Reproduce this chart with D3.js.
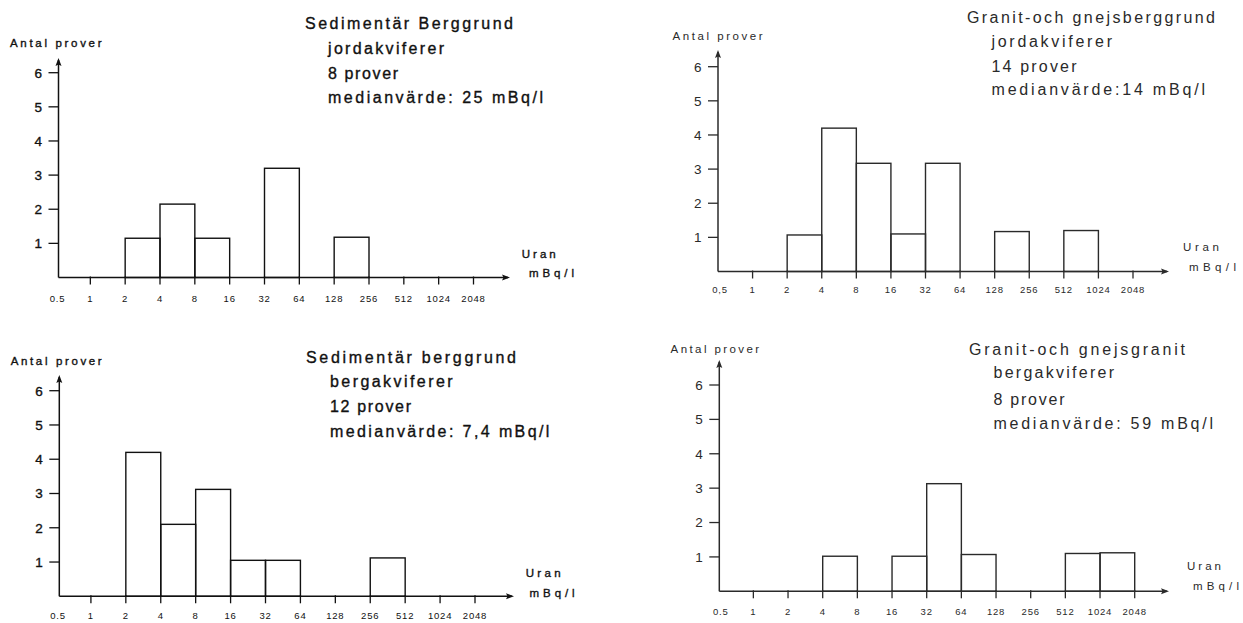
<!DOCTYPE html>
<html>
<head>
<meta charset="utf-8">
<script src="https://cdn.jsdelivr.net/npm/d3@7"></script>
<style>
  html, body { margin: 0; padding: 0; background: #fff; }
  svg { display: block; font-family: "Liberation Sans", Arial, sans-serif; }
</style>
</head>
<body>
<svg id="chart" width="1243" height="623"></svg>
<script>
// Class limits of the uranium concentration (mBq/l), doubling each step
const binEdges = [0.5, 1, 2, 4, 8, 16, 32, 64, 128, 256, 512, 1024, 2048];
const tickLabelsDot = ["0.5", "1", "2", "4", "8", "16", "32", "64", "128", "256", "512", "1024", "2048"];
const tickLabelsComma = ["0,5", "1", "2", "4", "8", "16", "32", "64", "128", "256", "512", "1024", "2048"];
const yTickValues = [1, 2, 3, 4, 5, 6];

// Number of samples per class (one value per interval between two edges)
const sedJord = [0, 0, 1.15, 2.15, 1.15, 0, 3.2, 0, 1.18, 0, 0, 0];
const granJord = [0, 0, 1.07, 4.2, 3.17, 1.1, 3.17, 0, 1.17, 0, 1.2, 0];
const sedBerg = [0, 0, 4.2, 2.1, 3.12, 1.05, 1.05, 0, 0, 1.12, 0, 0];
const granBerg = [0, 0, 0, 1.02, 0, 1.02, 3.13, 1.07, 0, 0, 1.1, 1.12];

// Caption lines
const captionSedJord = ["Sedimentär Berggrund", "jordakviferer", "8 prover", "medianvärde: 25 mBq/l"];
const captionGranJord = ["Granit-och gnejsberggrund", "jordakviferer", "14 prover", "medianvärde:14 mBq/l"];
const captionSedBerg = ["Sedimentär berggrund", "bergakviferer", "12 prover", "medianvärde: 7,4 mBq/l"];
const captionGranBerg = ["Granit-och gnejsgranit", "bergakviferer", "8 prover", "medianvärde: 59 mBq/l"];

const yAxisTitle = "Antal prover";
const xAxisTitle = ["Uran", "mBq/l"];

// Placement of each of the four histograms
const panels = [
  { counts: sedJord, caption: captionSedJord, labels: tickLabelsDot, ink: "#111", weight: 0.35,
    x0: 55.5, x1: 473.5, axisX: 58.5, baseY: 277.5, top6: 72.7, arrowTop: 58, arrowEnd: 510, labelY: 302,
    yLab: { x: 10, y: 47.3, w: 91.5 },
    cap: { x: 305, y: 29.3, w: 208, lx: 328, ly: [54, 79.3, 103.3], lw: [116, 70, 215] },
    uran: { x: 521.7, y: 258.3, w: 34 }, unit: { x: 529, y: 277.3, w: 45 } },
  { counts: granJord, caption: captionGranJord, labels: tickLabelsComma, ink: "#2a2a2a", weight: 0,
    x0: 718, x1: 1133, axisX: 718, baseY: 271.5, top6: 66.7, arrowTop: 50, arrowEnd: 1169, labelY: 293,
    yLab: { x: 672.6, y: 40, w: 90 },
    cap: { x: 967, y: 23.3, w: 248, lx: 991.5, ly: [46.7, 71.7, 95], lw: [120.5, 85, 213.5] },
    uran: { x: 1183, y: 250.7, w: 36 }, unit: { x: 1189, y: 270.7, w: 47 } },
  { counts: sedBerg, caption: captionSedBerg, labels: tickLabelsDot, ink: "#111", weight: 0.35,
    x0: 56, x1: 475, axisX: 59.3, baseY: 596.3, top6: 390.7, arrowTop: 375, arrowEnd: 514, labelY: 619,
    yLab: { x: 10.7, y: 365, w: 91 },
    cap: { x: 306, y: 363.3, w: 210, lx: 330, ly: [387.3, 411.7, 436.7], lw: [122.6, 81, 219.4] },
    uran: { x: 525.7, y: 576.7, w: 35 }, unit: { x: 529.6, y: 596.7, w: 45 } },
  { counts: granBerg, caption: captionGranBerg, labels: tickLabelsDot, ink: "#2a2a2a", weight: 0,
    x0: 718.7, x1: 1134.7, axisX: 719.3, baseY: 591.3, top6: 385, arrowTop: 360, arrowEnd: 1169, labelY: 615,
    yLab: { x: 670.6, y: 353.3, w: 88.5 },
    cap: { x: 969, y: 355, w: 216, lx: 993.5, ly: [378.3, 405, 429], lw: [120.5, 71, 219.5] },
    uran: { x: 1187, y: 570, w: 34 }, unit: { x: 1193, y: 590, w: 46 } }
];

const svg = d3.select("#chart");

function spacedText(g, str, pos, size, p) {
  g.append("text")
    .attr("x", pos.x).attr("y", pos.y)
    .attr("font-size", size)
    .attr("fill", p.ink)
    .attr("stroke", p.weight > 0 ? p.ink : "none")
    .attr("stroke-width", p.weight)
    .attr("textLength", pos.w)
    .attr("lengthAdjust", "spacing")
    .text(str);
}

panels.forEach(p => {
  const g = svg.append("g");
  const x = d3.scaleLog().base(2).domain([binEdges[0], binEdges[binEdges.length - 1]]).range([p.x0, p.x1]);
  const y = d3.scaleLinear().domain([0, 6]).range([p.baseY, p.top6]);

  // Histogram bars: outlined columns, one per class
  const bins = p.counts.map((c, i) => ({ lo: binEdges[i], hi: binEdges[i + 1], n: c })).filter(d => d.n > 0);
  g.selectAll("rect.bar").data(bins).enter().append("rect")
    .attr("class", "bar")
    .attr("x", d => x(d.lo))
    .attr("y", d => y(d.n))
    .attr("width", d => x(d.hi) - x(d.lo))
    .attr("height", d => y(0) - y(d.n))
    .attr("fill", "none")
    .attr("stroke", p.ink)
    .attr("stroke-width", 1.4);

  // X axis line with arrow
  g.append("line")
    .attr("x1", p.axisX).attr("x2", p.arrowEnd - 2)
    .attr("y1", p.baseY).attr("y2", p.baseY)
    .attr("stroke", p.ink).attr("stroke-width", 1.5);
  g.append("path")
    .attr("d", `M${p.arrowEnd},${p.baseY} l-8,-3 l1.5,3 l-1.5,3 z`)
    .attr("fill", p.ink);

  // Y axis line with arrow
  g.append("line")
    .attr("x1", p.axisX).attr("x2", p.axisX)
    .attr("y1", p.baseY).attr("y2", p.arrowTop + 2)
    .attr("stroke", p.ink).attr("stroke-width", 1.5);
  g.append("path")
    .attr("d", `M${p.axisX},${p.arrowTop} l-3,8 l3,-1.5 l3,1.5 z`)
    .attr("fill", p.ink);

  // X ticks (the first class limit sits at the origin)
  const xTicks = binEdges.slice(1);
  g.selectAll("line.xt").data(xTicks).enter().append("line")
    .attr("x1", d => x(d)).attr("x2", d => x(d))
    .attr("y1", p.baseY - 1).attr("y2", p.baseY + 7)
    .attr("stroke", p.ink).attr("stroke-width", 1.3);
  g.selectAll("text.xl").data(binEdges).enter().append("text")
    .attr("x", (d, i) => i === 0 ? x(d) + 2 : x(d))
    .attr("y", p.labelY)
    .attr("text-anchor", "middle")
    .attr("font-size", 9.5)
    .attr("letter-spacing", 0.8)
    .attr("fill", p.ink)
    .text((d, i) => p.labels[i]);

  // Y ticks
  g.selectAll("line.yt").data(yTickValues).enter().append("line")
    .attr("x1", p.axisX - 10).attr("x2", p.axisX)
    .attr("y1", d => y(d)).attr("y2", d => y(d))
    .attr("stroke", p.ink).attr("stroke-width", 1.3);
  g.selectAll("text.yl").data(yTickValues).enter().append("text")
    .attr("x", p.axisX - 16.5)
    .attr("y", d => y(d) + 4.8)
    .attr("text-anchor", "end")
    .attr("font-size", 13.5)
    .attr("fill", p.ink)
    .attr("stroke", p.weight > 0 ? p.ink : "none")
    .attr("stroke-width", p.weight)
    .text(d => d);

  // Axis titles
  spacedText(g, yAxisTitle, p.yLab, 11.5, p);
  spacedText(g, xAxisTitle[0], p.uran, 11.5, p);
  spacedText(g, xAxisTitle[1], p.unit, 11.5, p);

  // Caption block
  spacedText(g, p.caption[0], { x: p.cap.x, y: p.cap.y, w: p.cap.w }, 16, p);
  p.caption.slice(1).forEach((line, i) => {
    spacedText(g, line, { x: p.cap.lx, y: p.cap.ly[i], w: p.cap.lw[i] }, 16, p);
  });
});
</script>
</body>
</html>
